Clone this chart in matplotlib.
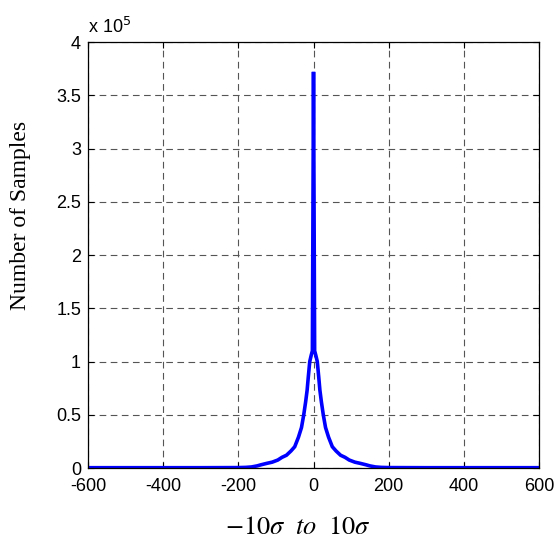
import matplotlib
matplotlib.use("Agg")
import matplotlib.pyplot as plt
from matplotlib.ticker import FuncFormatter

plt.rcParams["mathtext.fontset"] = "stix"

# Histogram of samples (x in units, y counts)
x_vals = [-600, -500, -400, -300, -200, -180, -165, -150, -140, -124, -110, -95, -84, -72,
          -60, -50, -40, -32, -26, -21, -17, -14, -10, -6, -3, 0,
          3, 6, 10, 14, 17, 21, 26, 32, 40, 50, 60, 72, 84, 95, 110, 124, 140, 150, 165, 180,
          200, 300, 400, 500, 600]
counts = [300, 300, 300, 300, 400, 600, 1000, 2000, 3000, 4400, 5500, 7500, 10000, 12000,
          16000, 20000, 29000, 38000, 50000, 62000, 73000, 85000, 100000, 106000, 110000, 372000,
          110000, 106000, 100000, 85000, 73000, 62000, 50000, 38000, 29000, 20000, 16000, 12000,
          10000, 7500, 5500, 4400, 3000, 2000, 1000, 600,
          400, 300, 300, 300, 300]
x_ticks = [-600, -400, -200, 0, 200, 400, 600]
y_ticks = [0, 50000, 100000, 150000, 200000, 250000, 300000, 350000, 400000]

fig = plt.figure(figsize=(5.58, 5.40), dpi=100)
ax = fig.add_axes([0.1577, 0.1333, 0.8083, 0.7889])
ax.plot(x_vals, counts, color="#0000ff", lw=2.6, solid_joinstyle="miter")
ax.set_xlim(-600, 600)
ax.set_ylim(0, 400000)
ax.set_xticks(x_ticks)
ax.set_yticks(y_ticks)
ax.yaxis.set_major_formatter(FuncFormatter(lambda v, p: f"{v/1e5:g}"))
ax.xaxis.set_major_formatter(FuncFormatter(lambda v, p: f"{v:g}"))
for lab in ax.get_xticklabels() + ax.get_yticklabels():
    lab.set_fontfamily("Liberation Sans")
    lab.set_fontsize(13)
ax.tick_params(direction="in", top=True, right=True, length=4, width=0.8)
ax.tick_params(axis="x", pad=7)
ax.tick_params(axis="y", pad=5)
ax.grid(True, color="#555555", linestyle=(0, (6, 4)), linewidth=0.8)
for s in ax.spines.values():
    s.set_linewidth(0.9)
ax.text(0.0, 1.012, r"x 10$^{5}$", transform=ax.transAxes, fontsize=13,
        family="Liberation Sans", ha="left", va="bottom",
        math_fontfamily="dejavusans")
fig.text(0.534, 0.024, r"$-10\sigma\ \ to\ \ 10\sigma$", fontsize=19,
         ha="center", va="center")
fig.text(0.036, 0.601, "Number of Samples", fontsize=17, family="Liberation Serif",
         rotation=90, ha="center", va="center")
fig.savefig("out.png", dpi=100)
